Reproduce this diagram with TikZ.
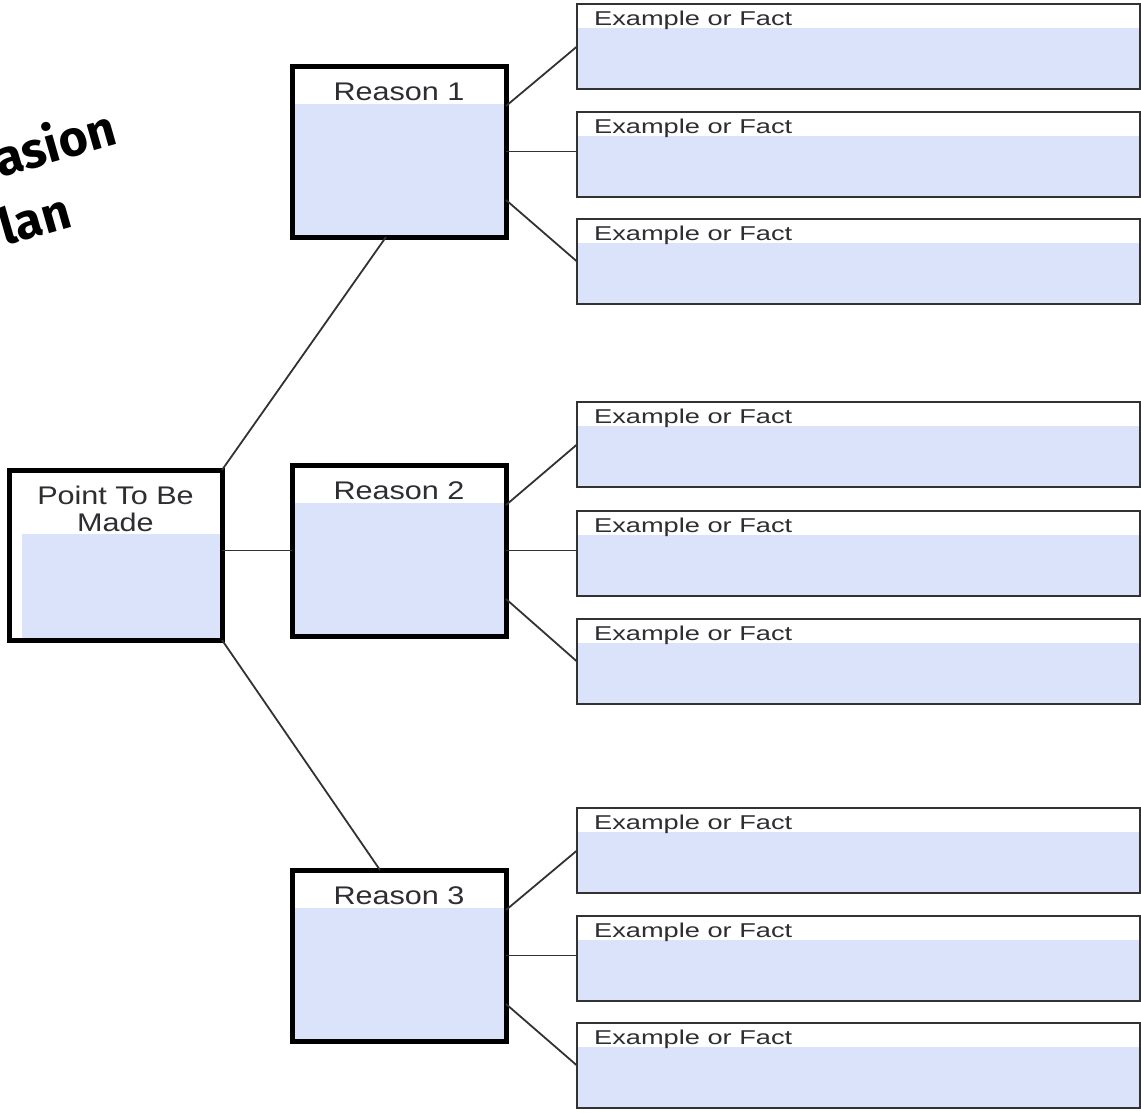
\documentclass[tikz,border=0pt]{standalone}
\usepackage{fontspec}
\setmainfont{Liberation Sans}
\newfontfamily\handfont{Fira Sans}
\usetikzlibrary{calc}
\definecolor{boxblue}{RGB}{218,227,250}
\definecolor{txtgray}{RGB}{45,45,50}
\definecolor{linegray}{RGB}{50,50,50}
\begin{document}
\begin{tikzpicture}[x=1pt,y=-1pt,
  frame/.style={draw=black, line width=5pt, fill=white, anchor=north west, inner sep=0pt, outer sep=0pt},
  exbox/.style={draw=linegray, line width=1.5pt, fill=white, anchor=north west, inner sep=0pt, outer sep=0pt, minimum width=563pt, minimum height=85pt},
  conn/.style={draw=linegray, line width=1.8pt},
  bigtxt/.style={font=\fontsize{25.5}{28}\selectfont, text=txtgray, inner sep=0pt},
  smalltxt/.style={font=\fontsize{20}{22}\selectfont, text=txtgray, inner sep=0pt, anchor=west},
  handtxt/.style={font=\handfont\bfseries\fontsize{50}{67}\selectfont, text=black, inner sep=0pt, anchor=base west, rotate=16, align=left}
]
\useasboundingbox (0,0) rectangle (1141,1112);

% title (cut at left edge)
\node[handtxt] (t1) at (19,242) {asion\\\hspace*{-14pt}lan};

% example boxes
\foreach \i/\t in {1/4,2/112,3/219,4/402,5/511,6/619,7/808,8/916,9/1023}{
  \node[exbox] (e\i) at (577,\t) {};
  \fill[boxblue] ($(e\i.north west)+(0.75,24)$) rectangle ($(e\i.south east)+(-0.75,-0.75)$);
  \draw[draw=linegray, line width=1.5pt] (e\i.north west) rectangle (e\i.south east);
  \node[smalltxt] (et\i) at ($(e\i.north west)+(17,16)$) {\scalebox{1.36}[1]{Example or Fact}};
}

% reason boxes
\foreach \i/\t in {1/66,2/465,3/870}{
  \node[frame, minimum width=214pt, minimum height=171pt] (r\i) at (292,\t) {};
  \fill[boxblue] ($(r\i.north west)+(2.5,38)$) rectangle ($(r\i.south east)+(-2.5,-2.5)$);
  \draw[black, line width=5pt] (r\i.north west) rectangle (r\i.south east);
  \node[bigtxt] (rt\i) at ($(r\i.north)+(0,26)$) {\scalebox{1.2}[1]{Reason \i}};
}

% point box
\node[frame, minimum width=213pt, minimum height=170pt] (p) at (9,470) {};
\fill[boxblue] ($(p.north west)+(13,64)$) rectangle ($(p.south east)+(-2.5,-2.5)$);
\draw[black, line width=5pt] (p.north west) rectangle (p.south east);
\node[bigtxt, align=center] (pt) at ($(p.north)+(0,39)$) {\scalebox{1.2}[1]{Point To Be}\\[-1pt]\scalebox{1.2}[1]{Made}};

% connectors: point to reasons
\draw[conn] (p.north east) -- ($(r1.south west)+(94,0)$);
\draw[conn] (p.east |- r2.west) -- (r2.west);
\draw[conn] (p.south east) -- ($(r3.north west)+(88,0)$);

% connectors: reasons to examples
\foreach \r/\a/\b/\c in {1/1/2/3,2/4/5/6,3/7/8/9}{
  \draw[conn] ($(r\r.north east)+(0,40)$) -- (e\a.west);
  \draw[conn] (r\r.east) -- (r\r.east -| e\b.west);
  \draw[conn] ($(r\r.south east)+(0,-37)$) -- (e\c.west);
}
\end{tikzpicture}
\end{document}
